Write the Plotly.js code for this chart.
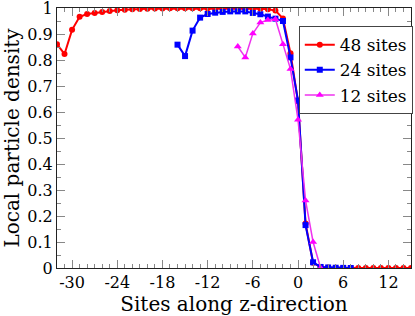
<!DOCTYPE html>
<html><head><meta charset="utf-8">
<script src="https://cdn.plot.ly/plotly-3.0.1.min.js"></script>
<style>body{margin:0;padding:0;background:#fff}#chart{width:415px;height:316px}</style>
</head><body><div id="chart"></div>
<script>
const x48 = [-32,-31,-30,-29,-28,-27,-26,-25,-24,-23,-22,-21,-20,-19,-18,-17,-16,-15,-14,-13,-12,-11,-10,-9,-8,-7,-6,-5,-4,-3,-2,-1,0,1,2,3,4,5,6,7,8,9,10,11,12,13,14,15];
const y48 = [0.861,0.823,0.916,0.966,0.977,0.981,0.985,0.988,0.991,0.993,0.995,0.996,0.997,0.998,0.998,0.999,0.999,0.999,0.999,0.999,0.999,0.999,0.999,0.999,0.999,0.998,0.998,0.997,0.995,0.99,0.96,0.826,0.64,0.171,0.02,0.004,0.002,0.001,0,0,0,0,0,0,0,0,0,0];
const x24 = [-16,-15,-14,-13,-12,-11,-10,-9,-8,-7,-6,-5,-4,-3,-2,-1,0,1,2,3,4,5,6,7];
const y24 = [0.859,0.815,0.913,0.963,0.977,0.982,0.985,0.987,0.987,0.987,0.981,0.976,0.967,0.959,0.950,0.81,0.644,0.165,0.022,0.004,0.002,0.001,0.0005,0];
const x12 = [-8,-7,-6,-5,-4,-3,-2,-1,0,1,2,3];
const y12 = [0.852,0.81,0.902,0.944,0.954,0.957,0.861,0.765,0.57,0.26,0.10,0];
const names = ['48 sites','24 sites','12 sites'];
const xTicks = [-30,-24,-18,-12,-6,0,6,12];
const yTicks = [0,0.1,0.2,0.3,0.4,0.5,0.6,0.7,0.8,0.9,1];

const font = 'DejaVu Serif';
const traces = [
  {x:x48,y:y48,name:names[0],mode:'lines+markers',line:{color:'#ff0000',width:2},marker:{symbol:'circle',size:6,color:'#ff0000'}},
  {x:x24,y:y24,name:names[1],mode:'lines+markers',line:{color:'#0000ff',width:2},marker:{symbol:'square',size:6,color:'#0000ff'}},
  {x:x12,y:y12,name:names[2],mode:'lines+markers',line:{color:'#ee33ee',width:1.5},marker:{symbol:'triangle-up',size:7,color:'#ff00ff'}}
];
const axBase = {showgrid:false,zeroline:false,showline:true,linecolor:'#222',linewidth:1,mirror:'allticks',ticks:'inside',ticklen:8,tickcolor:'#888',tickwidth:1,ticklabeloverflow:'allow',tickfont:{family:font,size:16,color:'#000'}};
const layout = {
  width:415,height:316,
  margin:{l:57,r:2,t:8,b:48},
  paper_bgcolor:'#fff',plot_bgcolor:'#fff',
  font:{family:font},
  showlegend:true,
  legend:{x:0.683,y:0.93,xanchor:'left',yanchor:'top',bordercolor:'#444',borderwidth:1,bgcolor:'#fff',font:{family:font,size:17,color:'#000'},tracegroupgap:0,itemwidth:30},
  xaxis:Object.assign({},axBase,{range:[-32,15],tickvals:xTicks,ticktext:xTicks.map(String),minor:{dtick:1,ticks:'inside',ticklen:4,tickcolor:'#888',showgrid:false},title:{text:'Sites along z-direction',font:{family:font,size:20,color:'#000'},standoff:5}}),
  yaxis:Object.assign({},axBase,{range:[0,1],tickvals:yTicks,ticktext:yTicks.map(String),minor:{dtick:0.05,tick0:0,ticks:'inside',ticklen:4,tickcolor:'#888',showgrid:false},title:{text:'Local particle density',font:{family:font,size:20,color:'#000'},standoff:2}})
};
Plotly.newPlot('chart',traces,layout,{displayModeBar:false,staticPlot:true});
</script></body></html>
